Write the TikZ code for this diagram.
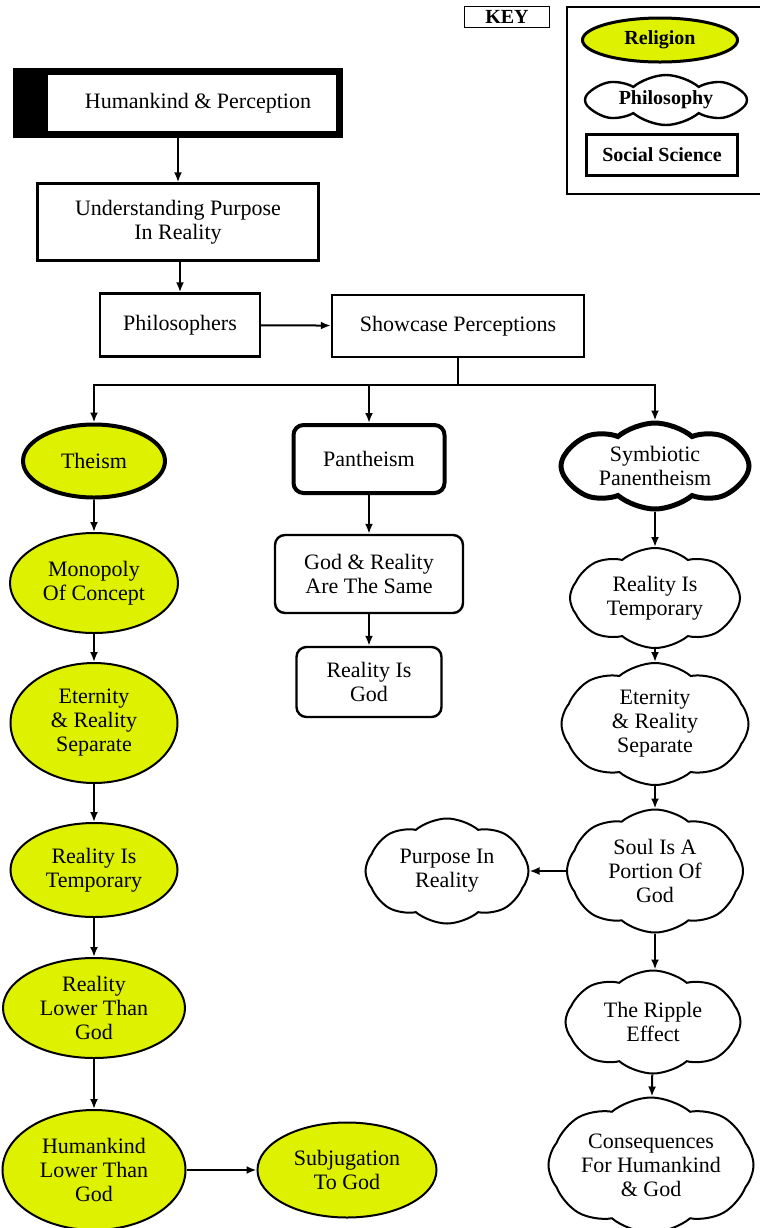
\documentclass[tikz,border=0pt]{standalone}
\usepackage{fontspec}
\setmainfont{Liberation Serif}
\usepackage{tikz}
\usetikzlibrary{arrows.meta, positioning, shapes.geometric, shapes.symbols}

\definecolor{religion}{RGB}{222,242,0}

\begin{document}
\begin{tikzpicture}[
  x=0.5pt, y=-0.5pt,
  >=Latex,
  every node/.style={font=\fontsize{11}{12}\selectfont},
  sz/.style 2 args={minimum width=#1, minimum height=#2},
  rel/.style={ellipse, draw, fill=religion, line width=1pt,
              align=center, inner sep=0pt},
  relthick/.style={rel, line width=2pt},
  phil/.style={cloud, cloud puffs=8, cloud puff arc=80, cloud ignores aspect,
               shape border rotate=22.5,
               draw, line width=1pt, align=center, inner sep=0pt},
  philthick/.style={phil, line width=2.5pt},
  soc/.style={rectangle, draw, line width=1.2pt, align=center, inner sep=2pt},
  socround/.style={soc, rounded corners=5pt},
  socthick/.style={socround, line width=2pt},
  keytxt/.style={font=\bfseries\fontsize{10}{12}\selectfont},
  arrow/.style={-{Latex[length=5pt,width=4pt]}, line width=1pt},
]
\useasboundingbox (0,0) rectangle (760,1228);

%% ── Key ─────────────────────────────────────────────────────────────────
\node[soc, line width=0.7pt, sz={42.5pt}{10.5pt}, keytxt, inner sep=0pt] (key)
  at (507,17) {KEY};
\draw[line width=0.6pt] (567,7) rectangle (780,194);
\node[rel, line width=1.5pt, sz={77.5pt}{22pt}, keytxt] (keyrel) at (660,40) {Religion};
\node[phil, line width=1.2pt, sz={81pt}{25pt}, keytxt] (keyphil) at (666,100) {Philosophy};
\node[soc, sz={75.5pt}{20.5pt}, keytxt] (keysoc) at (662,155) {Social Science};

%% ── Top row ─────────────────────────────────────────────────────────────
\node[soc, line width=3.5pt, sz={161.5pt}{31.5pt}] (hp) at (178,103)
  {\hspace*{20pt}Humankind \& Perception};
\fill (hp.north west) rectangle ([xshift=17.5pt]hp.south west);

\node[soc, sz={140.5pt}{38.5pt}] (und) at (178,222)
  {Understanding Purpose\\In Reality};
\node[soc, sz={80pt}{31.5pt}] (philo) at (180,325) {Philosophers};
\node[soc, sz={126pt}{31pt}] (show) at (458,326) {Showcase Perceptions};
\coordinate (split) at (458,385);

%% ── Theism (left column) ────────────────────────────────────────────────
\node[relthick, sz={71pt}{36.5pt}] (theism) at (94,461) {Theism};
\node[rel, sz={84pt}{50pt}] (mono) at (94,583) {Monopoly\\Of Concept};
\node[rel, sz={83.5pt}{60pt}] (etern) at (94,723) {Eternity\\\& Reality\\Separate};
\node[rel, sz={83.5pt}{47pt}] (rtemp) at (94,870) {Reality Is\\Temporary};
\node[rel, sz={91pt}{50pt}] (rlower) at (94,1008) {Reality\\Lower Than\\God};
\node[rel, sz={91.5pt}{60pt}] (hlower) at (94,1170) {Humankind\\Lower Than\\God};
\node[rel, sz={89.5pt}{47.5pt}] (subj) at (347,1170) {Subjugation\\To God};

%% ── Pantheism (middle column) ───────────────────────────────────────────
\node[socthick, sz={75.5pt}{34pt}] (pan) at (369,459) {Pantheism};
\node[socround, sz={94pt}{39pt}] (same) at (369,574) {God \& Reality\\Are The Same};
\node[socround, sz={72.5pt}{35pt}] (isgod) at (369,682) {Reality Is\\God};

%% ── Symbiotic Panentheism (right column) ────────────────────────────────
\node[philthick, sz={94pt}{43pt}] (sym) at (655,466) {Symbiotic\\Panentheism};
\node[phil, sz={85pt}{50pt}] (ctemp) at (655,598) {Reality Is\\Temporary};
\node[phil, sz={93.5pt}{61pt}] (cetern) at (655,724) {Eternity\\\& Reality\\Separate};
\node[phil, sz={88pt}{61.5pt}] (soul) at (655,871) {Soul Is A\\Portion Of\\God};
\node[phil, sz={81.5pt}{52.5pt}] (purp) at (447,871) {Purpose In\\Reality};
\node[phil, sz={87.5pt}{51.5pt}] (ripple) at (653,1022) {The Ripple\\Effect};
\node[phil, sz={102.5pt}{67.5pt}] (conseq) at (651,1165)
  {Consequences\\For Humankind\\\& God};

%% ── Arrows (top) ────────────────────────────────────────────────────────
\draw[arrow] (hp.south -| und.north) -- (und);
\draw[arrow] (und.south -| philo.north) -- (philo);
\draw[arrow] (philo) -- (show);
\draw[line width=1pt] (show.south) -- (split);
\draw[arrow] (split) -| (theism.north);
\draw[arrow] (split) -| (pan.north);
\draw[arrow] (split) -| (sym.north);

%% ── Arrows (columns) ────────────────────────────────────────────────────
\draw[arrow] (theism) -- (mono);
\draw[arrow] (mono) -- (etern);
\draw[arrow] (etern) -- (rtemp);
\draw[arrow] (rtemp) -- (rlower);
\draw[arrow] (rlower) -- (hlower);
\draw[arrow] (hlower) -- (subj);

\draw[arrow] (pan) -- (same);
\draw[arrow] (same) -- (isgod);

\draw[arrow] (sym) -- (ctemp);
\draw[arrow] (ctemp) -- (cetern);
\draw[arrow] (cetern) -- (soul);
\draw[arrow] (soul) -- (purp);
\draw[arrow] (soul.south) -- (soul.south |- ripple.north);
\draw[arrow] (ripple) -- (conseq);

\end{tikzpicture}
\end{document}
